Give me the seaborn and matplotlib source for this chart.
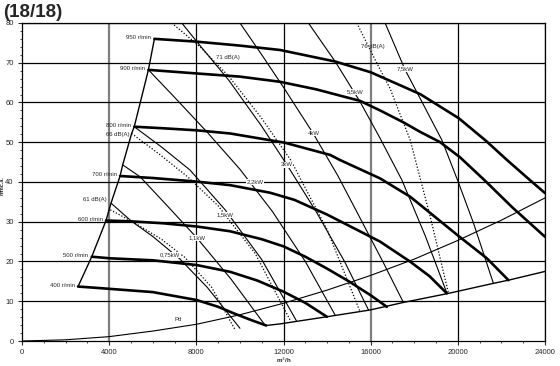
import matplotlib
matplotlib.use("Agg")
import matplotlib.pyplot as plt
import seaborn as sns
import pandas as pd

sns.set_style("white")
plt.rcParams['font.family'] = ['Liberation Sans', 'DejaVu Sans']

# fan speed curves (m3/h, mmc.a.)
rpm_labels = ['400 r/min', '500 r/min', '600 r/min', '700 r/min', '800 r/min', '900 r/min', '950 r/min']
q400 = [2570, 3580, 6000, 8020, 9000, 9700, 10500, 11200]
p400 = [13.7, 13.3, 12.3, 10.3, 8.6, 7.0, 5.3, 3.9]
q500 = [3200, 4040, 6000, 8020, 9550, 10800, 12000, 13000, 13990]
p500 = [21.2, 20.8, 20.3, 19.1, 17.4, 15.2, 12.4, 9.6, 6.1]
q600 = [3855, 5000, 6500, 8020, 9550, 11000, 12000, 13000, 14000, 15000, 16000, 16740]
p600 = [30.3, 30.1, 29.6, 28.8, 27.6, 25.6, 23.8, 21.2, 18.2, 15.0, 11.5, 8.6]
q700 = [4500, 6000, 8000, 9550, 11380, 12500, 14000, 15000, 16430, 17800, 18700, 19490]
p700 = [41.5, 41.0, 40.1, 39.2, 37.3, 35.5, 31.8, 29.0, 25.0, 20.0, 16.3, 12.0]
q800 = [5150, 6500, 8000, 9550, 12040, 14140, 14600, 16430, 17810, 19000, 20010, 21330, 22320]
p800 = [53.9, 53.5, 53.0, 52.2, 49.9, 46.8, 45.5, 40.9, 36.3, 31.0, 26.5, 20.8, 15.3]
q900 = [5800, 8000, 10000, 11840, 13500, 15510, 16430, 17500, 18270, 19190, 20100, 21250, 22500, 24000]
p900 = [68.2, 67.3, 66.5, 65.2, 63.3, 60.4, 58.0, 55.0, 52.6, 50.0, 46.2, 40.3, 33.6, 26.2]
q950 = [6075, 8000, 10000, 11840, 14370, 16000, 18270, 20050, 21300, 22260, 23320, 24000]
p950 = [76.0, 75.3, 74.3, 73.2, 70.3, 67.6, 62.1, 56.0, 50.3, 45.5, 40.4, 37.2]

# surge line and lower limit
q_surge = [2570, 3200, 3855, 4085, 4500, 4620, 5030, 5150, 5800, 6075]
p_surge = [13.7, 21.2, 30.3, 34.7, 41.5, 44.3, 52.2, 53.9, 68.2, 76.0]
q_low = [11200, 11840, 13990, 15970, 17500, 19500, 21630, 22320, 24000]
p_low = [3.9, 4.3, 6.1, 7.8, 9.7, 11.9, 14.5, 15.3, 17.5]

# dynamic pressure
q_pd = [0, 2000, 4000, 6000, 8000, 10000, 12000, 14000, 16000, 18000, 20000, 22000, 24000]
p_pd = [0, 0.3, 1.1, 2.5, 4.2, 6.6, 9.5, 12.8, 16.5, 20.6, 25.3, 30.4, 36.0]

# power lines
kw_labels = ['0,75kW', '1,1kW', '1,5kW', '2,2kW', '3kW', '4kW', '5,5kW', '7,5kW']
q075 = [4100, 5030, 6000, 7250, 8500, 10000]
p075 = [34.6, 30.1, 26.3, 20.6, 13.5, 3.2]
q11 = [4620, 5420, 6700, 8030, 9600, 11150]
p11 = [44.3, 41.3, 33.8, 25.9, 15.5, 4.0]
q15 = [5150, 6400, 7710, 9320, 11000, 12610]
p15 = [53.9, 48.8, 43.0, 33.0, 20.5, 4.9]
q22 = [5800, 7000, 8500, 10000, 11500, 13000, 14370]
p22 = [68.2, 61.3, 52.5, 43.2, 32.5, 20.0, 6.5]
q3 = [7330, 8020, 9500, 11000, 12160, 13500, 14800, 15900]
p3 = [80.0, 75.3, 65.5, 54.0, 44.3, 32.5, 20.0, 7.8]
q4 = [10000, 11000, 12000, 13350, 14500, 15600, 16600, 17500]
p4 = [80.0, 72.0, 63.8, 52.3, 41.5, 30.0, 19.5, 9.7]
q55 = [13140, 14370, 15510, 16430, 17430, 18500, 19500]
p55 = [80.0, 70.3, 60.2, 51.0, 40.5, 26.5, 12.0]
q75 = [16660, 17580, 18270, 19270, 20010, 20720, 21630]
p75 = [80.0, 68.2, 61.0, 50.5, 40.1, 29.6, 14.5]

# noise lines
db_labels = ['61 dB(A)', '66 dB(A)', '71 dB(A)', '76 dB(A)']
q61 = [4050, 5200, 6400, 7480, 8700, 9780]
p61 = [33.0, 29.6, 25.6, 21.0, 13.5, 2.8]
q66 = [5030, 6300, 7600, 9000, 10700, 12300]
p66 = [52.2, 47.0, 41.3, 34.0, 22.0, 5.3]
q71 = [6870, 8170, 9500, 11000, 12330, 14000, 15510]
p71 = [80.0, 74.0, 66.5, 56.0, 45.5, 28.0, 7.4]
q76 = [15360, 16280, 16890, 17350, 17810, 18730, 19570]
p76 = [80.0, 69.9, 63.5, 57.0, 50.6, 31.3, 12.0]

fig = plt.figure(figsize=(5.6, 3.66), dpi=100)
ax = fig.add_axes([0.0393, 0.0683, 0.934, 0.869])


def draw(q, p, lw, ls='-', color='black'):
    d = pd.DataFrame({'q': q, 'p': p})
    sns.lineplot(data=d, x='q', y='p', ax=ax, sort=False, estimator=None,
                 color=color, lw=lw, ls=ls)


# grid
for xv in [8000, 12000, 20000, 24000]:
    ax.axvline(xv, color='black', lw=0.9, zorder=1)
for xv in [4000, 16000]:
    ax.axvline(xv, color='#7f7f7f', lw=1.6, zorder=1)
for yv in range(10, 81, 10):
    ax.axhline(yv, color='black', lw=0.9, zorder=1)

draw(q_surge, p_surge, 1.0)
draw(q_low, p_low, 1.0)
draw(q_pd, p_pd, 0.8)
for q, p in [(q400, p400), (q500, p500), (q600, p600), (q700, p700),
             (q800, p800), (q900, p900), (q950, p950)]:
    draw(q, p, 1.9)
for q, p in [(q075, p075), (q11, p11), (q15, p15), (q22, p22),
             (q3, p3), (q4, p4), (q55, p55), (q75, p75)]:
    draw(q, p, 0.8)
for q, p in [(q61, p61), (q66, p66), (q71, p71), (q76, p76)]:
    draw(q, p, 0.9, ls=(0, (1, 1.5)))

fs = 4.3
# speed labels, right aligned at curve start
for lab, q, p in zip(rpm_labels, [q400, q500, q600, q700, q800, q900, q950],
                     [p400, p500, p600, p700, p800, p900, p950]):
    ax.text(q[0] - 150, p[0] + 0.3, lab, fontsize=fs, ha='right', va='center')
ax.text(q61[0] - 150, p61[0] + 2.5, db_labels[0], fontsize=fs, ha='right', va='center')
ax.text(q66[0] - 100, p66[0] - 0.2, db_labels[1], fontsize=fs, ha='right', va='center')
ax.text(9450, 71.3, db_labels[2], fontsize=fs, ha='center', va='center')
ax.text(16100, 74.0, db_labels[3], fontsize=fs, ha='center', va='center')

kw_pos = [(6800, 21.6), (8030, 25.9), (9320, 31.7), (10700, 40.0),
          (12160, 44.3), (13400, 52.3), (15300, 62.6), (17600, 68.4)]
for lab, (x, y) in zip(kw_labels, kw_pos):
    ax.text(x, y, lab, fontsize=fs, ha='center', va='center',
            bbox=dict(facecolor='white', edgecolor='none', pad=0.3))
ax.text(7150, 5.3, 'Pd', fontsize=fs, ha='center', va='center')

ax.set_xlim(0, 24000)
ax.set_ylim(0, 80)
ax.set_xticks(range(0, 24001, 4000))
ax.set_xticks(range(0, 24001, 1000), minor=True)
ax.set_yticks(range(0, 81, 10))
ax.set_yticks(range(0, 81, 2), minor=True)
ax.tick_params(axis='both', which='major', labelsize=5.5, length=3, width=0.8,
               direction='out', pad=3, bottom=True, left=True)
ax.tick_params(axis='both', which='minor', length=1.5, width=0.6,
               direction='out', bottom=True, left=True)
ax.set_xlabel('m$^3$/h', fontsize=4.5, fontweight='bold')
ax.xaxis.set_label_coords(0.5, -0.045)
ax.set_ylabel('mmc.a.', fontsize=4, fontweight='bold')
ax.yaxis.set_label_coords(-0.034, 0.49)
for s in ax.spines.values():
    s.set_color('black')
    s.set_linewidth(0.9)

fig.text(0.005, 0.988, '(18/18)', fontsize=13.5, fontweight='bold', va='top', ha='left')

fig.savefig('out.png', dpi=100)
